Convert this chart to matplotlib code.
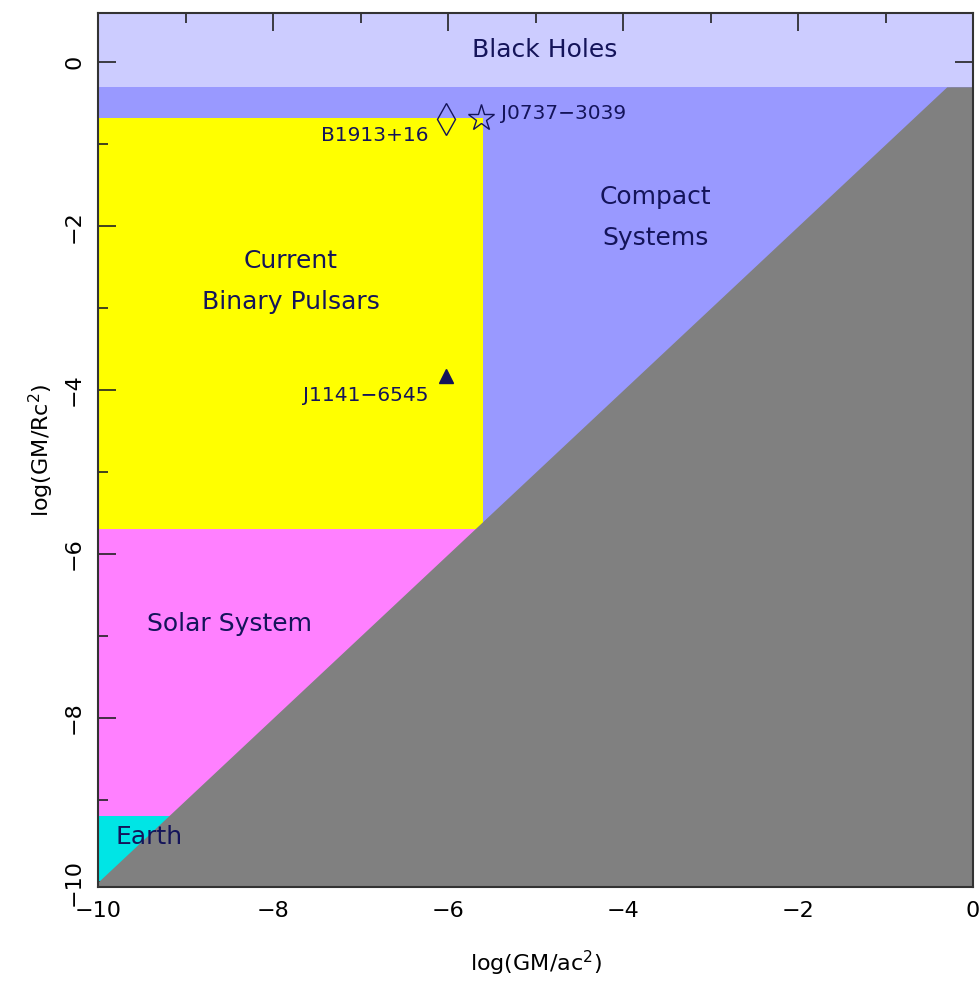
import matplotlib
matplotlib.use("Agg")
import matplotlib.pyplot as plt
import numpy as np
from matplotlib.ticker import MultipleLocator

# Region boundaries (log units)
xlim = [-10.0, 0.0]
ylim = [-10.06, 0.6]
black_hole_floor = -0.3
pulsar_x = [-10.0, -5.6]
pulsar_y = [-5.7, -0.68]
solar_y = [-9.2, -5.7]
earth_y = [-10.06, -9.2]

# Pulsar systems
psr_names = ["B1913+16", "J0737\u22123039", "J1141\u22126545"]
psr_x = [-6.02, -5.62, -6.02]
psr_y = [-0.69, -0.68, -3.83]

region_labels = ["Black Holes", "Compact\nSystems", "Current\nBinary Pulsars", "Solar System", "Earth"]
region_lx = [-4.9, -3.63, -7.8, -8.5, -9.8]
region_ly = [0.15, -1.9, -2.67, -6.85, -9.45]

c_bh = "#ccccff"
c_compact = "#9999ff"
c_pulsar = "#ffff00"
c_solar = "#ff80ff"
c_earth = "#00e5e5"
c_gray = "#808080"
c_text = "#14145a"

fig = plt.figure(figsize=(9.8, 9.83), dpi=100)
ax = fig.add_axes([0.1, 0.0977, 0.8929, 0.8891])
ax.set_xlim(xlim)
ax.set_ylim(ylim)

ax.axhspan(black_hole_floor, ylim[1], color=c_bh, lw=0, zorder=0)
ax.axhspan(ylim[0], black_hole_floor, color=c_compact, lw=0, zorder=0)
ax.fill_between(pulsar_x, pulsar_y[0], pulsar_y[1], color=c_pulsar, lw=0, zorder=1)
ax.axhspan(solar_y[0], solar_y[1], color=c_solar, lw=0, zorder=1)
ax.axhspan(earth_y[0], earth_y[1], color=c_earth, lw=0, zorder=1)
xd = np.linspace(xlim[0], xlim[1], 200)
ax.fill_between(xd, ylim[0] - 1, np.minimum(xd, black_hole_floor), color=c_gray, lw=0, zorder=2)

# markers
ax.plot(psr_x[0], psr_y[0], marker="d", ms=16, mfc="none", mec=c_text, mew=1.0, zorder=5)
ax.plot(psr_x[1], psr_y[1], marker="*", ms=20, mfc="none", mec=c_text, mew=1.0, zorder=5)
ax.plot(psr_x[2], psr_y[2], marker="^", ms=10, mfc=c_text, mec=c_text, mew=1.0, zorder=5)

fs = 18
pfs = 14.5
ax.text(psr_x[0] - 0.2, psr_y[0] - 0.2, psr_names[0], ha="right", va="center", fontsize=pfs, color=c_text, zorder=6)
ax.text(psr_x[1] + 0.22, psr_y[1] + 0.06, psr_names[1], ha="left", va="center", fontsize=pfs, color=c_text, zorder=6)
ax.text(psr_x[2] - 0.2, psr_y[2] - 0.24, psr_names[2], ha="right", va="center", fontsize=pfs, color=c_text, zorder=6)

for lab, lx, ly in zip(region_labels, region_lx, region_ly):
    ha = "left" if lab == "Earth" else "center"
    ax.text(lx, ly, lab, ha=ha, va="center", fontsize=fs, color=c_text,
            linespacing=1.9, zorder=6)

ax.xaxis.set_major_locator(MultipleLocator(2))
ax.yaxis.set_major_locator(MultipleLocator(2))
ax.xaxis.set_minor_locator(MultipleLocator(1))
ax.yaxis.set_minor_locator(MultipleLocator(1))
ax.tick_params(which="both", direction="in", top=True, right=True, color="#222222", width=1.2, zorder=10)
ax.tick_params(which="major", length=13, labelsize=16, pad=10)
ax.tick_params(which="minor", length=7)
ax.tick_params(axis="y", labelrotation=90)
for lab in ax.get_yticklabels():
    lab.set_va("center")
for s in ax.spines.values():
    s.set_linewidth(1.5)
    s.set_color("#333333")
    s.set_zorder(10)

ax.set_xlabel("log(GM/ac$^2$)", fontsize=16, labelpad=20)
ax.set_ylabel("log(GM/Rc$^2$)", fontsize=16, labelpad=6)

fig.savefig("out.png", dpi=100)
